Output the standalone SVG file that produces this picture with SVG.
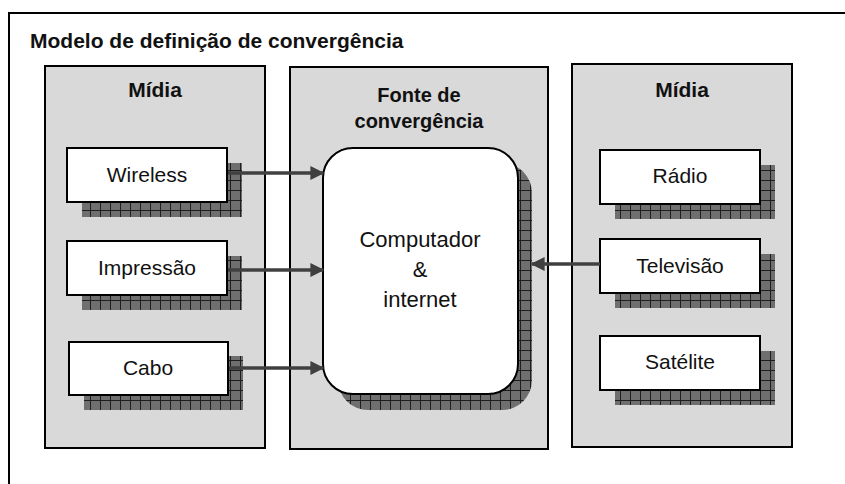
<svg xmlns="http://www.w3.org/2000/svg" width="845" height="484" viewBox="0 0 845 484">
<style>
.panel{fill:#d9d9d9;stroke:#000;stroke-width:2}
.box{fill:#fff;stroke:#000;stroke-width:2}
.shadow{fill:url(#grid)}
.t{font-family:"Liberation Sans",Arial,sans-serif;font-size:21px;fill:#111;text-anchor:middle}
.c{font-size:22px}
.h{font-family:"Liberation Sans",Arial,sans-serif;font-size:20px;font-weight:bold;fill:#111;text-anchor:middle}
.conn{stroke:#404040;stroke-width:3.5;fill:none;marker-end:url(#ah)}
</style>
<defs>
<pattern id="grid" width="10" height="10" patternUnits="userSpaceOnUse">
<rect width="10" height="10" fill="#6f6f6f"/>
<path d="M0 0.5H10M0.5 0V10" stroke="#1e1e1e" stroke-width="1"/>
</pattern>
<marker id="ah" markerWidth="4" markerHeight="4" refX="3.6" refY="2" orient="auto" markerUnits="strokeWidth">
<path d="M0 0L4 2L0 4Z" fill="#404040"/>
</marker>
</defs>
<rect width="845" height="484" fill="#fff"/>
<rect x="9" y="13" width="850" height="480" fill="none" stroke="#000" stroke-width="2"/>
<text class="h" x="30" y="48" style="text-anchor:start;font-size:21px">Modelo de definição de convergência</text>

<g id="panel-left">
<rect class="panel" x="45" y="66" width="220" height="382"/>
<text class="h" x="155" y="97" style="font-size:21px">Mídia</text>
</g>
<g id="panel-center">
<rect class="panel" x="290" y="67" width="258" height="382"/>
<text class="h" x="419" y="102">Fonte de</text>
<text class="h" x="419" y="128">convergência</text>
</g>
<g id="panel-right">
<rect class="panel" x="572" y="64" width="220" height="383"/>
<text class="h" x="682" y="97" style="font-size:21px">Mídia</text>
</g>

<g id="wireless">
<rect class="shadow" x="82" y="163" width="160" height="54"/>
<rect class="box" x="67" y="148" width="160" height="54"/>
<text class="t" x="147" y="182">Wireless</text>
</g>
<g id="impressao">
<rect class="shadow" x="82" y="256" width="160" height="54"/>
<rect class="box" x="67" y="241" width="160" height="54"/>
<text class="t" x="147" y="275">Impressão</text>
</g>
<g id="cabo">
<rect class="shadow" x="84" y="356" width="159" height="54"/>
<rect class="box" x="69" y="342" width="159" height="53"/>
<text class="t" x="148" y="375">Cabo</text>
</g>

<g id="computador">
<rect class="shadow" x="338" y="163" width="194" height="247" rx="30"/>
<rect class="box" x="323" y="148" width="195" height="246" rx="30"/>
<text class="t c" x="420" y="247">Computador</text>
<text class="t c" x="420" y="277">&amp;</text>
<text class="t c" x="420" y="307">internet</text>
</g>

<g id="radio">
<rect class="shadow" x="615" y="165" width="160" height="54"/>
<rect class="box" x="600" y="150" width="160" height="54"/>
<text class="t" x="680" y="183">Rádio</text>
</g>
<g id="televisao">
<rect class="shadow" x="615" y="254" width="160" height="54"/>
<rect class="box" x="600" y="239" width="160" height="54"/>
<text class="t" x="680" y="273">Televisão</text>
</g>
<g id="satelite">
<rect class="shadow" x="615" y="351" width="160" height="54"/>
<rect class="box" x="600" y="336" width="160" height="54"/>
<text class="t" x="680" y="369">Satélite</text>
</g>

<g id="connectors">
<path class="conn" d="M228 173H323"/>
<path class="conn" d="M228 270H323"/>
<path class="conn" d="M229 368H323"/>
<path class="conn" d="M600 264H532"/>
</g>
</svg>
